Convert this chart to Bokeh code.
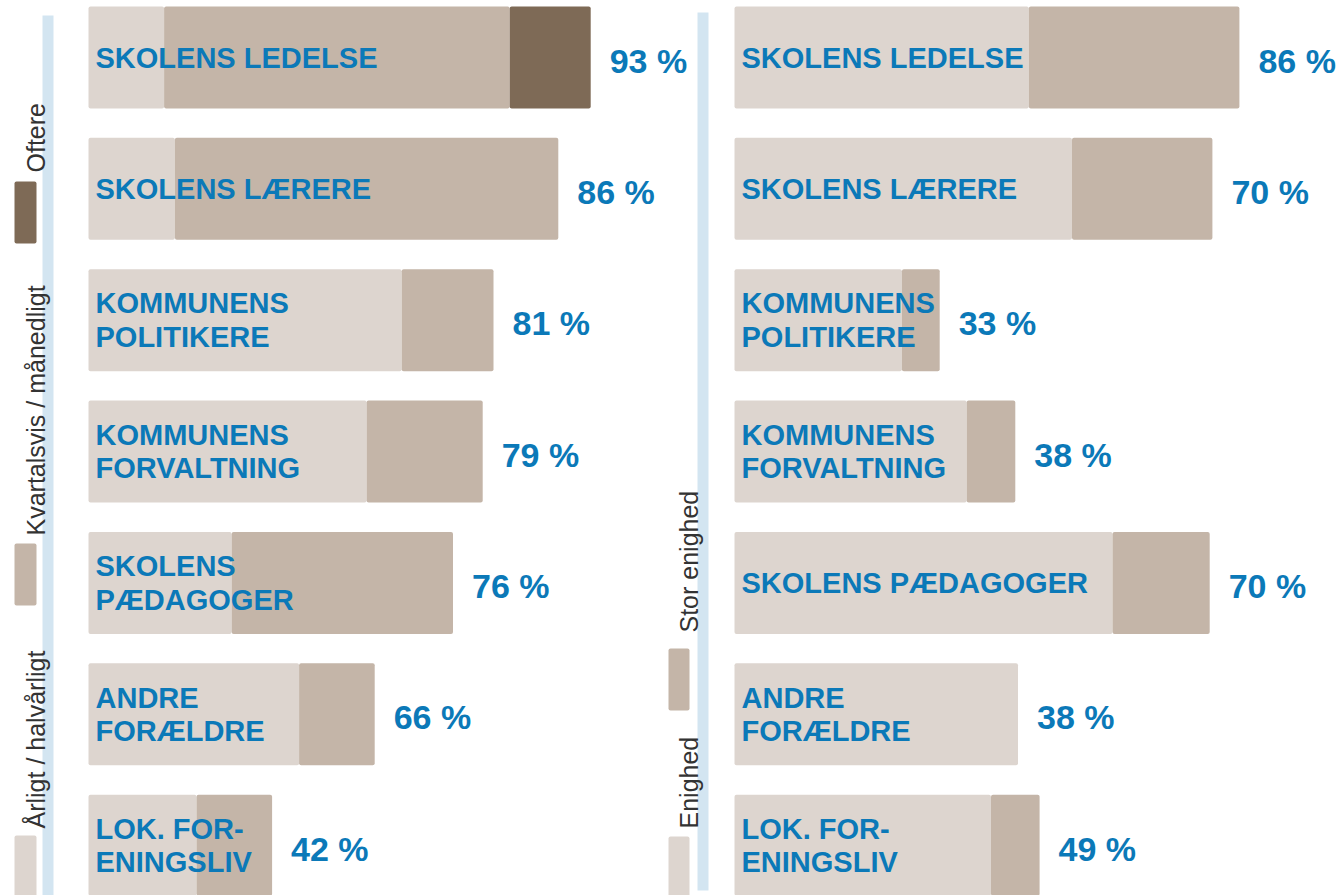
import numpy as np
from math import pi
from bokeh.plotting import figure
from bokeh.models import Range1d, ColumnDataSource
from bokeh.core.properties import value
from bokeh.embed import file_html
from bokeh.resources import INLINE

# ---------------- data ----------------
left_categories = ["SKOLENS LEDELSE", "SKOLENS LÆRERE", "KOMMUNENS\nPOLITIKERE",
                   "KOMMUNENS\nFORVALTNING", "SKOLENS\nPÆDAGOGER", "ANDRE\nFORÆLDRE",
                   "LOK. FOR-\nENINGSLIV"]
left_aarligt = [14, 16, 58, 51.5, 26.5, 39, 20]        # Årligt / halvårligt
left_kvartal = [64, 71, 17, 21.5, 41, 14, 14]          # Kvartalsvis / månedligt
left_oftere = [15, 0, 0, 0, 0, 0, 0]                   # Oftere
left_totals = [93, 86, 81, 79, 76, 66, 42]

right_categories = ["SKOLENS LEDELSE", "SKOLENS LÆRERE", "KOMMUNENS\nPOLITIKERE",
                    "KOMMUNENS\nFORVALTNING", "SKOLENS PÆDAGOGER", "ANDRE\nFORÆLDRE",
                    "LOK. FOR-\nENINGSLIV"]
right_enighed = [54.5, 62.5, 31, 43, 70, 52.5, 47.5]   # Enighed
right_stor = [39, 26, 7, 9, 18, 0, 9]                  # Stor enighed
right_totals = [86, 70, 33, 38, 70, 38, 49]

left_legend = ["Årligt / halvårligt", "Kvartalsvis / månedligt", "Oftere"]
right_legend = ["Enighed", "Stor enighed"]

# ---------------- style ----------------
C_LIGHT = "#DDD5CF"
C_MID = "#C4B5A8"
C_DARK = "#7E6A56"
C_TEXT = "#0B79B8"
C_LINE = "#D3E5F1"
C_LEG = "#333333"

W, H = 1336, 895
K = 5.4          # px per unit
Y0, DY = 57, 131.36
BAR_H = 102 / DY
OL, OR = 88, 734  # pixel origins of the two panels

p = figure(width=W, height=H, output_backend="svg", toolbar_location=None,
           x_axis_location=None, y_axis_location=None, min_border=0,
           x_range=Range1d(-OL / K, (W - OL) / K),
           y_range=Range1d((H - Y0) / DY, -Y0 / DY))
p.extra_x_ranges = {"right": Range1d(-OR / K, (W - OR) / K)}
p.grid.visible = False
p.outline_line_color = None
p.background_fill_color = "white"
p.border_fill_color = "white"

yy = lambda py: (py - Y0) / DY


def draw_panel(rng, origin, cats, segments, colors, totals):
    idx = np.arange(len(cats))
    left = np.zeros(len(cats))
    for seg, col in zip(segments, colors):
        seg = np.array(seg, dtype=float)
        m = seg > 0
        p.hbar(y=idx[m], left=left[m], right=(left + seg)[m], height=BAR_H,
               fill_color=col, line_color=None, border_radius=2, x_range_name=rng)
        left = left + seg
    src = ColumnDataSource(dict(y=idx, x=np.zeros(len(cats)), t=cats))
    p.text(x="x", y="y", text="t", source=src, x_offset=7, text_baseline="middle",
           text_align="left", text_color=C_TEXT, text_font=value("Liberation Sans"),
           text_font_style="bold", text_font_size="29px", text_line_height=1.05,
           x_range_name=rng)
    src2 = ColumnDataSource(dict(y=idx, x=left, t=[f"{v} %" for v in totals]))
    p.text(x="x", y="y", text="t", source=src2, x_offset=19, y_offset=3,
           text_baseline="middle", text_align="left", text_color=C_TEXT,
           text_font=value("Liberation Sans"), text_font_style="bold",
           text_font_size="34px", x_range_name=rng)


def px(gpx, origin):
    return (gpx - origin) / K


# ---------------- left panel ----------------
p.quad(left=px(42, OL), right=px(53, OL), top=yy(15), bottom=yy(900),
       fill_color=C_LINE, line_color=None)
draw_panel("default", OL, left_categories, [left_aarligt, left_kvartal, left_oftere],
           [C_LIGHT, C_MID, C_DARK], left_totals)
for (name, col, top, bot, tstart) in [(left_legend[0], C_LIGHT, 835, 900, 828),
                                      (left_legend[1], C_MID, 543, 605, 535),
                                      (left_legend[2], C_DARK, 181, 243, 172)]:
    p.quad(left=px(14, OL), right=px(36, OL), top=yy(top), bottom=yy(bot), fill_color=col,
           line_color=None, border_radius=2)
    p.text(x=[px(35, OL)], y=[yy(tstart)], text=[name], angle=pi / 2, text_align="left",
           text_baseline="alphabetic", text_color=C_LEG,
           text_font=value("Liberation Sans"), text_font_size="25px")

# ---------------- right panel ----------------
p.quad(left=px(697, OR), right=px(708, OR), top=yy(12), bottom=yy(890),
       fill_color=C_LINE, line_color=None, x_range_name="right")
draw_panel("right", OR, right_categories, [right_enighed, right_stor], [C_LIGHT, C_MID],
           right_totals)
for (name, col, top, bot, tstart) in [(right_legend[0], C_LIGHT, 836, 900, 828),
                                      (right_legend[1], C_MID, 648, 710, 632)]:
    p.quad(left=px(668, OR), right=px(689, OR), top=yy(top), bottom=yy(bot), fill_color=col,
           line_color=None, border_radius=2, x_range_name="right")
    p.text(x=[px(688, OR)], y=[yy(tstart)], text=[name], angle=pi / 2, text_align="left",
           text_baseline="alphabetic", text_color=C_LEG,
           text_font=value("Liberation Sans"), text_font_size="25px",
           x_range_name="right")

open("out.html", "w").write(file_html(p, INLINE))
